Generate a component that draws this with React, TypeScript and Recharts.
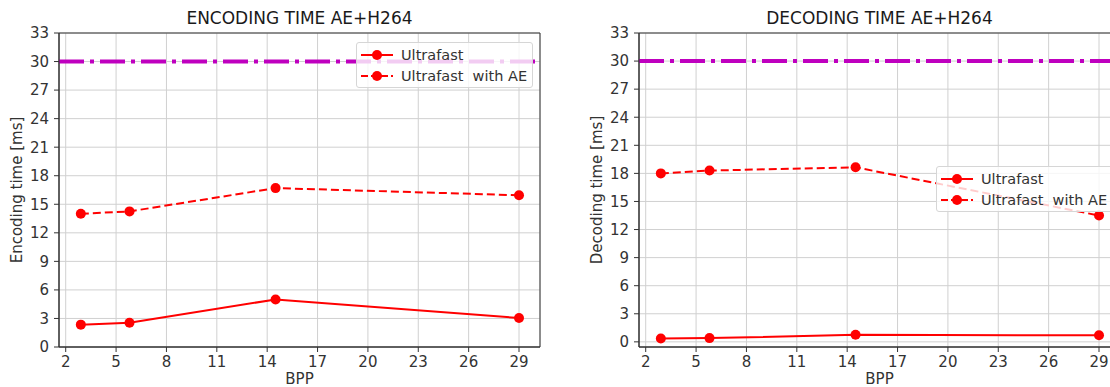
import { LineChart, Line, XAxis, YAxis, CartesianGrid, ReferenceLine, ReferenceArea } from 'recharts'

const bpp = [2.9, 5.8, 14.5, 29]
const encUltrafast = [2.35, 2.55, 5.0, 3.05]
const encWithAE = [14.0, 14.25, 16.7, 15.95]
const decUltrafast = [0.35, 0.4, 0.75, 0.7]
const decWithAE = [18.0, 18.3, 18.65, 13.5]
const threshold = 30
const xTicks = [2, 5, 8, 11, 14, 17, 20, 23, 26, 29]
const yTicks = [0, 3, 6, 9, 12, 15, 18, 21, 24, 27, 30, 33]

const RED = '#ff0000'
const MAGENTA = '#bf00bf'
const INK = '#333333'
const FONT = '"DejaVu Sans", Verdana, sans-serif'
const X_DOMAIN: [number, number] = [1.6, 30.25]

const tickStyle = { fontSize: 15, fill: INK, fontFamily: FONT }

function toRows(a: number[], b: number[]) {
  return bpp.map((x, i) => ({ bpp: x, ultrafast: a[i], withAE: b[i] }))
}

function LegendBox({ left, top }: { left: number; top: number }) {
  const row = (dashed: boolean, text: string) => (
    <div style={{ display: 'flex', alignItems: 'center', height: 21 }}>
      <svg width={34} height={14} style={{ marginLeft: 4, marginRight: 6 }}>
        <line x1={0} y1={7} x2={32} y2={7} stroke={RED} strokeWidth={2} strokeDasharray={dashed ? '7 3' : undefined} />
        <circle cx={16} cy={7} r={5} fill={RED} />
      </svg>
      <span style={{ whiteSpace: 'pre' }}>{text}</span>
    </div>
  )
  return (
    <div
      style={{
        position: 'absolute', left, top, width: 177, height: 46, boxSizing: 'border-box',
        background: 'rgba(255,255,255,0.8)', border: '1px solid #d6d6d6', borderRadius: 3,
        paddingTop: 1, fontSize: 14.5, color: INK, fontFamily: FONT,
      }}
    >
      {row(false, 'Ultrafast')}
      {row(true, 'Ultrafast  with AE')}
    </div>
  )
}

function Panel(props: { left: number; title: string; yLabel: string; yMin: number; a: number[]; b: number[]; legendLeft: number; legendTop: number }) {
  const rows = toRows(props.a, props.b)
  return (
    <>
      <div style={{ position: 'absolute', left: props.left, top: 0, width: 555 }}>
        <LineChart width={555} height={387} data={rows} margin={{ top: 33, right: 15, bottom: 0, left: 0 }}>
          <CartesianGrid stroke="#d0d0d0" strokeWidth={1} />
          <XAxis
            dataKey="bpp" type="number" domain={X_DOMAIN} ticks={xTicks} allowDataOverflow
            height={40} tickSize={5} tickMargin={4} stroke={INK} tick={tickStyle}
            label={{ value: 'BPP', position: 'insideBottom', offset: 3, style: { fontSize: 15, fill: INK, fontFamily: FONT } }}
          />
          <YAxis
            type="number" domain={[props.yMin, 33]} ticks={yTicks} allowDataOverflow
            width={59} tickSize={5} tickMargin={5} stroke={INK} tick={tickStyle}
            label={{ value: props.yLabel, angle: -90, position: 'insideLeft', offset: 17, style: { fontSize: 15, fill: INK, fontFamily: FONT, textAnchor: 'middle' } }}
          />
          <ReferenceArea x1={X_DOMAIN[0]} x2={X_DOMAIN[1]} y1={props.yMin} y2={33} fill="none" stroke={INK} strokeWidth={1} />
          <ReferenceLine y={threshold} stroke={MAGENTA} strokeWidth={4} strokeDasharray="25 6 4 6" />
          <Line
            dataKey="ultrafast" stroke={RED} strokeWidth={2} isAnimationActive={false}
            dot={{ r: 5, fill: RED, stroke: RED, strokeWidth: 0 }} activeDot={false}
          />
          <Line
            dataKey="withAE" stroke={RED} strokeWidth={2} strokeDasharray="8 4" isAnimationActive={false}
            dot={{ r: 5, fill: RED, stroke: RED, strokeWidth: 0, strokeDasharray: '' }} activeDot={false}
          />
        </LineChart>
      </div>
      <div
        style={{
          position: 'absolute', left: props.left + 59, top: 8, width: 481, textAlign: 'center',
          fontSize: 17, color: '#1a1a1a', fontFamily: FONT,
        }}
      >
        {props.title}
      </div>
      <LegendBox left={props.legendLeft} top={props.legendTop} />
    </>
  )
}

export default function App() {
  return (
    <div style={{ position: 'absolute', left: 0, top: 0, width: 1110, height: 387, overflow: 'hidden', background: '#fff' }}>
      <Panel left={0} title="ENCODING TIME AE+H264" yLabel="Encoding time [ms]" yMin={0} a={encUltrafast} b={encWithAE} legendLeft={356} legendTop={42} />
      <Panel left={580} title="DECODING TIME AE+H264" yLabel="Decoding time [ms]" yMin={-0.55} a={decUltrafast} b={decWithAE} legendLeft={936} legendTop={166} />
    </div>
  )
}
